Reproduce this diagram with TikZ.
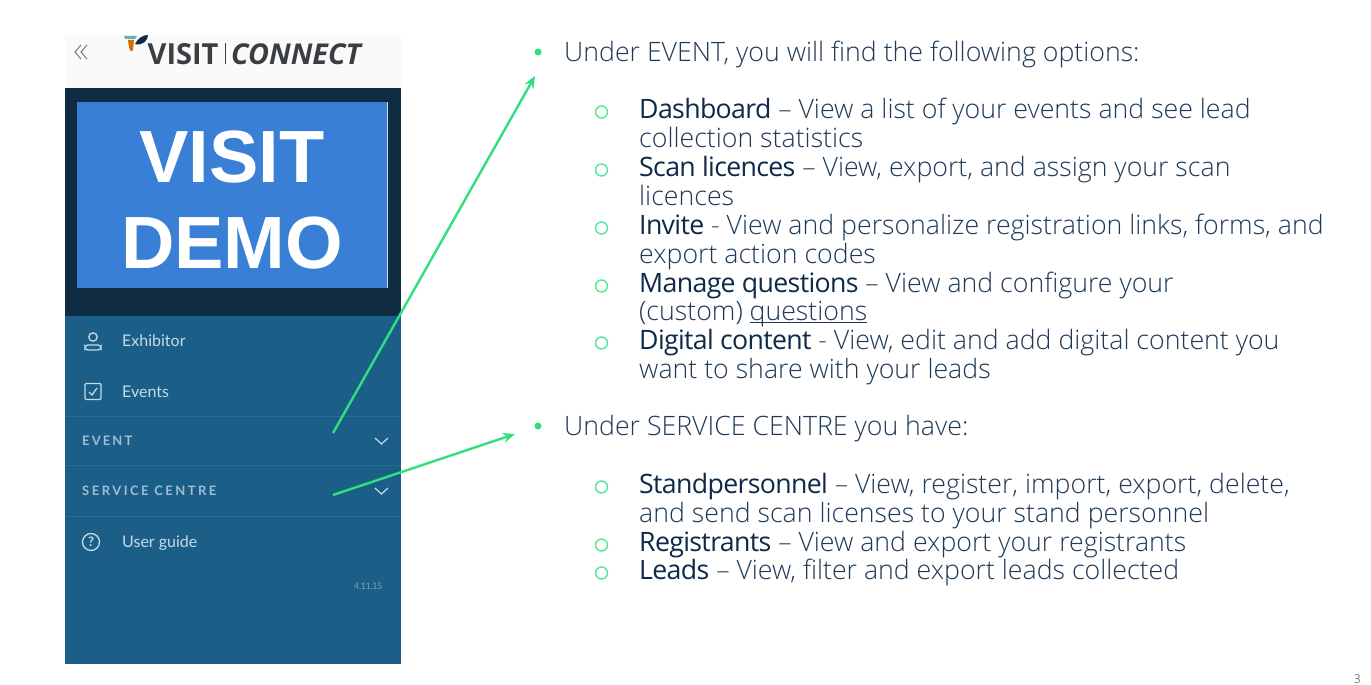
\documentclass[tikz,border=0pt]{standalone}
\usepackage{fontspec}
\setmainfont{Open Sans}
\newfontfamily\lightfont{Open Sans Light}
\newfontfamily\sidefont{Lato}
\newfontfamily\demofont{Liberation Sans}
\usetikzlibrary{arrows.meta}
\definecolor{sidebar}{HTML}{1B5E87}
\definecolor{sidedark}{HTML}{0F2C42}
\definecolor{sideline}{HTML}{2A6C94}
\definecolor{sidetext}{HTML}{C8DAE6}
\definecolor{sidecaps}{HTML}{9CBFD3}
\definecolor{demoblue}{HTML}{3A7FD6}
\definecolor{arrowgreen}{HTML}{30E080}
\definecolor{bodyblue}{HTML}{1E3A58}
\definecolor{headblue}{HTML}{0E2A48}
\definecolor{logogray}{HTML}{3A3D42}
\tikzset{
	bodytext/.style={anchor=base west,inner sep=0pt,yshift=-0.8pt,text=bodyblue,font=\fontsize{26.7}{29}\lightfont},
	menutext/.style={anchor=base west,inner sep=0pt,yshift=-0.6pt,text=sidetext,font=\fontsize{16}{18}\sidefont},
	capstext/.style={anchor=base west,inner sep=0pt,text=sidecaps,font=\fontsize{13}{15}\sidefont\bfseries},
	demotext/.style={anchor=base,inner sep=0pt,text=white,font=\fontsize{74}{74}\demofont\bfseries},
	bigdot/.style={circle,fill=arrowgreen,inner sep=0pt,minimum size=7pt},
	ringdot/.style={circle,draw=arrowgreen!80!white,line width=1.4pt,inner sep=0pt,minimum size=12pt},
	chevron/.style={draw=sidetext,line width=1.2pt},
	iconline/.style={draw=sidetext,line width=1.3pt},
	pointer/.style={draw=arrowgreen,line width=2.4pt,-{Stealth[length=12pt,width=10pt]}},
}
\newcommand{\hd}[1]{{\normalfont\fontsize{26.7}{29}\selectfont\color{headblue}\addfontfeature{LetterSpace=-2.5}#1}}
\begin{document}
\begin{tikzpicture}[x=1pt,y=-1pt]
	\useasboundingbox (0,0) rectangle (1371,685);
	\fill[white] (0,0) rectangle (1371,685);
	%Sidebar
	\fill[white!98!black] (65,35) rectangle (401,88);
	\fill[sidebar] (65,88) rectangle (401,664);
	\fill[sidedark] (65,88) rectangle (401,316);
	\fill[demoblue] (77,102) rectangle (387,288);
	\draw[white!70!demoblue] (387.5,102) -- (387.5,288);
	\node[demotext] (visit) at (232,182) {VISIT};
	\node[demotext] (demo) at (232,268) {DEMO};
	\draw[sideline] (65,416) -- (401,416);
	\draw[sideline] (65,465) -- (401,465);
	\draw[sideline] (65,516) -- (401,516);
	%Logo
	\draw[logogray!70,line width=1pt] (81,45) -- (75,52) -- (81,59) (87,45) -- (81,52) -- (87,59);
	\fill[teal!60!white] (124,36) -- (137,36) -- (135,39) -- (125,39) -- cycle;
	\fill[orange!85!black] (128,40) -- (134,40) -- (133,50) .. controls (131,53) and (129,51) .. (128,40);
	\fill[sidedark] (135,44) .. controls (138,38) and (143,35) .. (148,35) .. controls (148,41) and (142,46) .. (135,44);
	\node[anchor=base west,inner sep=0pt,text=logogray,font=\fontsize{29}{29}\selectfont\bfseries] (logovisit) at (147.5,64) {VISIT};
	\draw[logogray,line width=.7pt] (225,43) -- (225,64);
	\node[anchor=base west,inner sep=0pt,text=logogray,font=\fontsize{28.7}{29}\selectfont\bfseries\itshape] (logoconnect) at (231,64) {CONNECT};
	%Menu
	\node[menutext] (exhibitor) at (122,346) {Exhibitor};
	\node[menutext] (events) at (122,397) {Events};
	\node[capstext] (event) at (82,445) {\addfontfeature{LetterSpace=16}EVENT};
	\node[capstext] (service) at (82,495) {\addfontfeature{LetterSpace=19}SERVICE CENTRE};
	\node[menutext] (guide) at (122,547) {User guide};
	\node[anchor=base west,inner sep=0pt,text=sidecaps!70!sidebar,font=\fontsize{9}{12}\sidefont] (version) at (354,589) {\addfontfeature{LetterSpace=-4}4.11.15};
	\draw[iconline] (93,337) circle (4.2);
	\draw[iconline,rounded corners=3pt] (85,350) -- (85,345) -- (101,345) -- (101,350) -- cycle;
	\draw[iconline,rounded corners=1pt] (85,383.5) rectangle (101,399.5);
	\draw[iconline] (89,392) -- (92,395) -- (97,388);
	\draw[iconline] (91,542) circle (8.5);
	\node[inner sep=0pt,text=sidetext,font=\fontsize{13}{13}\sidefont\bfseries] (help) at (91,542) {?};
	\draw[chevron] (375,438) -- (381.5,444) -- (388,438);
	\draw[chevron] (375,488) -- (381.5,494) -- (388,488);
	%Under EVENT
	\node[bigdot] (dot1) at (538,52) {};
	\node[bodytext] (l1) at (564,61) {Under EVENT, you will find the following options:};
	\node[ringdot] (r1) at (601.5,112) {};
	\node[bodytext] (l2) at (639,118) {\hd{Dashboard} – View a list of your events and see lead};
	\node[bodytext] (l3) at (639,147) {collection statistics};
	\node[ringdot] (r2) at (601.5,170) {};
	\node[bodytext] (l4) at (639,176) {\hd{Scan licences} – View, export, and assign your scan};
	\node[bodytext] (l5) at (639,205) {licences};
	\node[ringdot] (r3) at (601.5,228) {};
	\node[bodytext] (l6) at (639,234) {\hd{Invite} - View and personalize registration links, forms, and};
	\node[bodytext] (l7) at (639,263) {export action codes};
	\node[ringdot] (r4) at (601.5,286) {};
	\node[bodytext] (l8) at (639,292) {\hd{Manage questions} – View and configure your};
	\node[bodytext] (l9) at (639,320) {(custom) \underline{\smash{questions}}};
	\node[ringdot] (r5) at (601.5,343) {};
	\node[bodytext] (l10) at (639,349) {\hd{Digital content} - View, edit and add digital content you};
	\node[bodytext] (l11) at (639,378) {want to share with your leads};
	%Under SERVICE CENTRE
	\node[bigdot] (dot2) at (538,426) {};
	\node[bodytext] (l12) at (564,435) {Under SERVICE CENTRE you have:};
	\node[ringdot] (r6) at (601.5,487) {};
	\node[bodytext] (l13) at (639,493) {\hd{Standpersonnel} – View, register, import, export, delete,};
	\node[bodytext] (l14) at (639,522) {and send scan licenses to your stand personnel};
	\node[ringdot] (r7) at (601.5,545) {};
	\node[bodytext] (l15) at (639,551) {\hd{Registrants} – View and export your registrants};
	\node[ringdot] (r8) at (601.5,573) {};
	\node[bodytext] (l16) at (639,579) {\hd{Leads} – View, filter and export leads collected};
	\node[anchor=base east,inner sep=0pt,text=bodyblue,font=\fontsize{12}{12}\lightfont] (page) at (1361,683) {3};
	%Arrows
	\coordinate (eventstart) at (333,433);
	\coordinate (eventend) at (535,76);
	\coordinate (servicestart) at (333,495);
	\coordinate (serviceend) at (515,434);
	\draw[pointer] (eventstart) -- (eventend);
	\draw[pointer] (servicestart) -- (serviceend);
\end{tikzpicture}
\end{document}
